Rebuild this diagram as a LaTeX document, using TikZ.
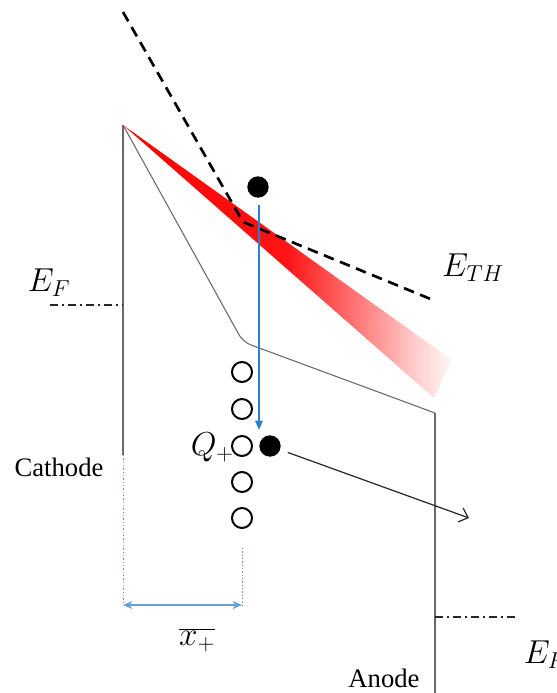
\documentclass[tikz,border=0pt]{standalone}
\usepackage{fontspec}
\setmainfont{Liberation Serif}
\usetikzlibrary{arrows.meta}
\pgfdeclarehorizontalshading{bandshade}{100bp}{color(0bp)=(red); color(25bp)=(red); color(50bp)=(red!92); color(60bp)=(red!55); color(70bp)=(red!18); color(75bp)=(red!3); color(100bp)=(red!3)}
\definecolor{myblue}{RGB}{40,130,205}
\definecolor{lightblue}{RGB}{100,160,215}
\definecolor{linegray}{RGB}{105,105,105}
\begin{document}
\begin{tikzpicture}[x=0.75pt,y=-0.75pt,
  thinline/.style={draw=linegray, line width=0.8pt},
  thdash/.style={draw=black, line width=2pt, dash pattern=on 8pt off 5pt},
  dashdot/.style={draw=black!85, line width=2pt, dash pattern=on 6pt off 3pt on 1.5pt off 3pt},
  guide/.style={draw=lightblue!60!gray, line width=0.6pt, dash pattern=on 1pt off 1.5pt},
  hole/.style={circle, draw=black, line width=1.5pt, minimum size=15pt, inner sep=0pt},
  electron/.style={circle, fill=black, minimum size=16pt, inner sep=0pt},
  lbl/.style={font=\fontsize{20}{24}\selectfont, inner sep=0pt},
  mlbl/.style={font=\fontsize{23}{27}\selectfont, inner sep=0pt},
]
\useasboundingbox (0,0) rectangle (557,693);
% key coordinates
\coordinate (tip) at (123,125);
\coordinate (kink) at (243,342);
\coordinate (atop) at (435,413);
\coordinate (cbot) at (123,455);
\coordinate (cdot) at (123,605);
\coordinate (abot) at (435,693);
\coordinate (dtop) at (123,12);
\coordinate (dkink) at (243,222);
\coordinate (dend) at (433,300);
\coordinate (efl1) at (50,305);
\coordinate (efl2) at (123,305);
\coordinate (efr1) at (435,617);
\coordinate (efr2) at (516,617);
\coordinate (xdtop) at (242,548);
\coordinate (xdbot) at (242,605);
\coordinate (bandA) at (452,360);
\coordinate (bandB) at (434,398);
\coordinate (bt) at (259,430);
\coordinate (kt) at (469,518);
% red band
\shade[shading=bandshade] (tip) -- (bandA) -- (bandB) -- cycle;
% band edges
\draw[thinline, rounded corners=6pt] (tip) -- (kink) -- (atop);
\draw[thinline] (tip) -- (cbot);
\draw[thinline] (atop) -- (abot);
\draw[guide] (cbot) -- (cdot);
\draw[guide] (xdtop) -- (xdbot);
% threshold
\draw[thdash] (dtop) -- (dkink) -- (dend);
% Fermi levels
\draw[dashdot] (efl1) -- (efl2);
\draw[dashdot] (efr1) -- (efr2);
% carriers
\node[electron] (e1) at (258,187) {};
\node[hole] (h1) at (242,372) {};
\node[hole] (h2) at (242,409) {};
\node[hole] (h3) at (242,446) {};
\node[hole] (h4) at (242,482) {};
\node[hole] (h5) at (242,518) {};
\node[electron] (e2) at (270,446) {};
\draw[myblue, line width=1.5pt, shorten <=5pt, -{Triangle[length=7pt,width=5.5pt]}] (e1.south -| bt) -- (bt);
\draw[black!85, line width=0.9pt, shorten <=6pt, -{Straight Barb[length=6pt,width=11pt]}] (e2) -- (kt);
\draw[lightblue, line width=1.5pt, {Stealth[length=7pt,width=6pt]}-{Stealth[length=7pt,width=6pt]}] (cdot) -- (xdbot);
% labels
\node[mlbl] (lefl) at (49,283) {$E_F$};
\node[mlbl] (leth) at (473,268) {$E_{TH}$};
\node[mlbl] (lefr) at (545,655) {$E_F$};
\node[mlbl, anchor=east] (lq) at (234,447) {$Q_+$};
\node[lbl] (lcath) at (59,467) {Cathode};
\node[lbl] (lanode) at (384,678) {Anode};
\node[mlbl] (lx) at (197,640) {$\overline{x_+}$};
\end{tikzpicture}
\end{document}
